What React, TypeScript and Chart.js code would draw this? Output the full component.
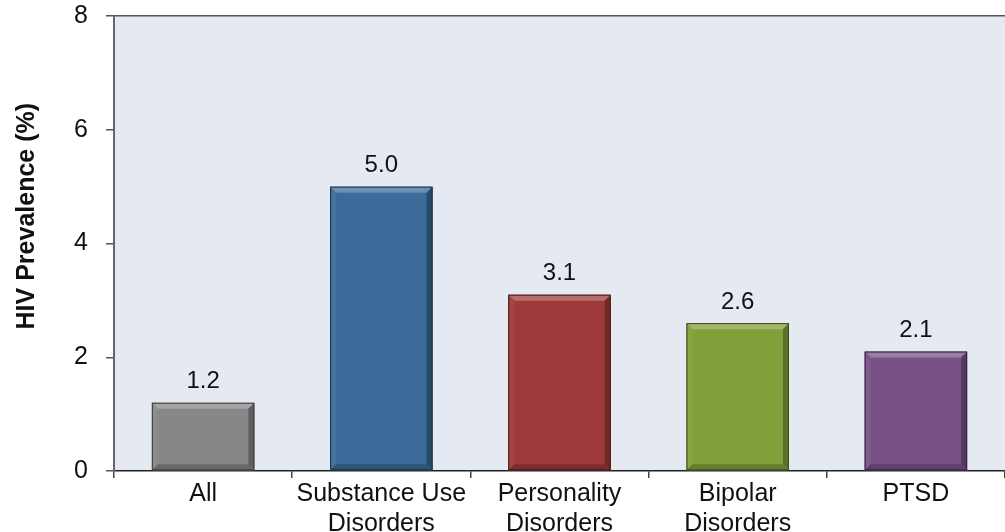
import React, { useEffect, useRef } from "react";
import { Chart, registerables } from "chart.js";

Chart.register(...registerables);

const categories: (string | string[])[] = [
  "All",
  ["Substance Use", "Disorders"],
  ["Personality", "Disorders"],
  ["Bipolar", "Disorders"],
  "PTSD",
];
const prevalence = [1.2, 5.0, 3.1, 2.6, 2.1];
const barColors = ["#878787", "#3c6a99", "#9e3a3b", "#82a03a", "#785287"];
const yTicks = [0, 2, 4, 6, 8];
const yTitle = "HIV Prevalence (%)";

const FONT = "'Liberation Sans', Arial, Helvetica, sans-serif";

function shade(hex: string, amt: number): string {
  // amt > 0 mixes toward white, amt < 0 toward black
  const n = parseInt(hex.slice(1), 16);
  let r = (n >> 16) & 255, g = (n >> 8) & 255, b = n & 255;
  const t = amt > 0 ? 255 : 0;
  const p = Math.abs(amt);
  r = Math.round(r + (t - r) * p);
  g = Math.round(g + (t - g) * p);
  b = Math.round(b + (t - b) * p);
  return `rgb(${r},${g},${b})`;
}

// Fills the plotting area with a pale blue-grey backdrop
const plotBackground = {
  id: "plotBackground",
  beforeDraw(chart: any) {
    const { ctx, chartArea } = chart;
    ctx.save();
    ctx.fillStyle = "#e5e9f2";
    ctx.fillRect(chartArea.left, chartArea.top, chartArea.right - chartArea.left, chartArea.bottom - chartArea.top);
    ctx.restore();
  },
};

// Rotated y-axis title, sitting a little above the axis midpoint
const axisTitle = {
  id: "axisTitle",
  afterDraw(chart: any) {
    const { ctx, chartArea } = chart;
    ctx.save();
    ctx.translate(27, chartArea.top + (chartArea.bottom - chartArea.top) * 0.44);
    ctx.rotate(-Math.PI / 2);
    ctx.fillStyle = "#111";
    ctx.font = `bold 25px ${FONT}`;
    ctx.textAlign = "center";
    ctx.textBaseline = "middle";
    ctx.fillText(yTitle, 0, 0);
    ctx.restore();
  },
};

// Bevelled edges on each bar plus the value printed above it
const bevelAndLabels = {
  id: "bevelAndLabels",
  afterDatasetsDraw(chart: any) {
    const { ctx } = chart;
    const meta = chart.getDatasetMeta(0);
    const data = chart.data.datasets[0].data as number[];
    meta.data.forEach((bar: any, i: number) => {
      const { x, y, base, width } = bar.getProps(["x", "y", "base", "width"], true);
      const l = x - width / 2, r = x + width / 2, t = y, b = base;
      const s = 6;
      const c = barColors[i];
      ctx.save();
      const poly = (pts: number[][], fill: string) => {
        ctx.beginPath();
        ctx.moveTo(pts[0][0], pts[0][1]);
        for (let k = 1; k < pts.length; k++) ctx.lineTo(pts[k][0], pts[k][1]);
        ctx.closePath();
        ctx.fillStyle = fill;
        ctx.fill();
      };
      poly([[l, t], [r, t], [r - s, t + s], [l + s, t + s]], shade(c, 0.25));
      poly([[l, t], [l + s, t + s], [l + s, b - s], [l, b]], shade(c, 0.05));
      poly([[r, t], [r, b], [r - s, b - s], [r - s, t + s]], shade(c, -0.3));
      poly([[l, b], [l + s, b - s], [r - s, b - s], [r, b]], shade(c, -0.22));
      ctx.strokeStyle = shade(c, -0.55);
      ctx.lineWidth = 1;
      ctx.strokeRect(l + 0.5, t + 0.5, width - 1, b - t - 1);
      ctx.fillStyle = "#111";
      ctx.font = `24px ${FONT}`;
      ctx.textAlign = "center";
      ctx.textBaseline = "middle";
      ctx.fillText(data[i].toFixed(1), x, t - 21);
      ctx.restore();
    });
  },
};

export default function App() {
  const ref = useRef<HTMLCanvasElement | null>(null);

  useEffect(() => {
    if (!ref.current) return;
    const chart = new Chart(ref.current, {
      type: "bar",
      data: {
        labels: categories,
        datasets: [
          {
            data: prevalence,
            backgroundColor: barColors,
            borderWidth: 0,
            categoryPercentage: 1,
            barPercentage: 0.575,
          },
        ],
      },
      options: {
        responsive: false,
        animation: false,
        layout: { padding: { top: 16, left: 0, right: 0, bottom: 0 } },
        plugins: { legend: { display: false }, tooltip: { enabled: false } },
        scales: {
          x: {
            offset: true,
            grid: { display: true, offset: true, drawOnChartArea: false, tickLength: 7, tickColor: "#444", lineWidth: 1.5 },
            border: { display: true, color: "#222", width: 1.5 },
            ticks: { color: "#111", padding: 1, font: { family: FONT, size: 25, lineHeight: 1.2 }, maxRotation: 0, autoSkip: false },
            afterFit(scale: any) {
              scale.height = 61;
              scale.paddingLeft = 0;
              scale.paddingRight = 0;
            },
          },
          y: {
            min: 0,
            max: 8,
            afterBuildTicks(scale: any) {
              scale.ticks = yTicks.map((v) => ({ value: v }));
            },
            grid: {
              drawOnChartArea: true,
              color: (c: any) => (c.tick && c.tick.value === 8 ? "#555" : "transparent"),
              tickColor: "#555",
              tickLength: 8,
              lineWidth: 1.5,
            },
            border: { display: true, color: "#666", width: 2 },
            ticks: { color: "#111", padding: 18, font: { family: FONT, size: 25 } },
            afterFit(scale: any) {
              scale.width = 114;
              scale.paddingTop = 0;
              scale.paddingBottom = 0;
            },
          },
        },
      },
      plugins: [plotBackground, bevelAndLabels, axisTitle],
    });
    return () => chart.destroy();
  }, []);

  return (
    <div style={{ position: "fixed", left: 0, top: 0, width: 1005, height: 532, background: "#fff" }}>
      <canvas ref={ref} width={1005} height={532} style={{ display: "block" }} />
    </div>
  );
}
